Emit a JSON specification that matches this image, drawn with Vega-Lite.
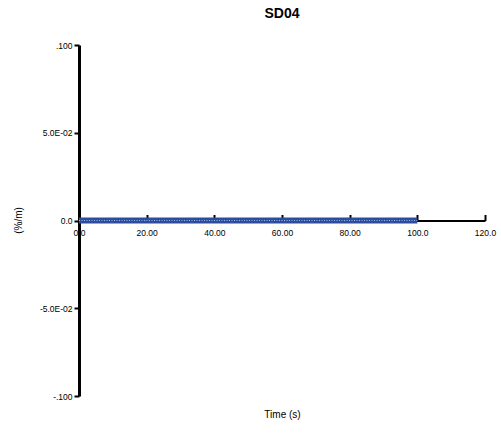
{
  "$schema": "https://vega.github.io/schema/vega-lite/v6.json",
  "width": 406,
  "height": 351,
  "autosize": {"type": "none"},
  "padding": {"left": 79, "top": 45, "right": 16, "bottom": 38},
  "background": "white",
  "config": {"view": {"stroke": null}, "font": "Liberation Sans"},
  "title": {"text": "SD04", "fontSize": 14, "font": "Liberation Sans", "fontWeight": "bold", "anchor": "middle", "offset": 20, "color": "#000"},
  "data": {"values": [
    {"t": 0, "v": 0}, {"t": 5, "v": 0}, {"t": 10, "v": 0}, {"t": 15, "v": 0}, {"t": 20, "v": 0},
    {"t": 25, "v": 0}, {"t": 30, "v": 0}, {"t": 35, "v": 0}, {"t": 40, "v": 0}, {"t": 45, "v": 0},
    {"t": 50, "v": 0}, {"t": 55, "v": 0}, {"t": 60, "v": 0}, {"t": 65, "v": 0}, {"t": 70, "v": 0},
    {"t": 75, "v": 0}, {"t": 80, "v": 0}, {"t": 85, "v": 0}, {"t": 90, "v": 0}, {"t": 95, "v": 0},
    {"t": 100, "v": 0}
  ]},
  "encoding": {
    "x": {"field": "t", "type": "quantitative",
      "scale": {"domain": [0, 120], "nice": false, "zero": false},
      "axis": {"title": "Time (s)", "grid": false, "values": [0, 20, 40, 60, 80, 100, 120],
        "labelExpr": "datum.value == 0 ? '0.0' : (datum.value >= 100 ? format(datum.value, '.1f') : format(datum.value, '.2f'))",
        "offset": -175.5, "domainColor": "#000", "domainWidth": 2, "tickColor": "#000", "tickWidth": 2, "tickSize": -6,
        "labelFontSize": 8.5, "labelColor": "#000", "labelPadding": 14, "labelFlush": false,
        "titleFontSize": 10, "titleFontWeight": "normal", "titleColor": "#000", "titleY": 194, "titleBaseline": "middle"}},
    "y": {"field": "v", "type": "quantitative",
      "scale": {"domain": [-0.1, 0.1], "nice": false, "zero": false},
      "axis": {"title": "(%/m)", "grid": false, "values": [-0.1, -0.05, 0, 0.05, 0.1],
        "labelExpr": "datum.value > 0.09 ? '.100' : (datum.value > 0.04 ? '5.0E-02' : (datum.value > -0.01 ? '0.0' : (datum.value > -0.06 ? '-5.0E-02' : '-.100')))",
        "domainColor": "#000", "domainWidth": 3, "tickColor": "#000", "tickWidth": 2, "tickSize": 5,
        "labelFontSize": 8.5, "labelColor": "#000", "labelPadding": 2, "labelFlush": false,
        "titleFontSize": 10, "titleFontWeight": "normal", "titleColor": "#000", "titleX": -61, "titleY": 175, "titleAngle": -90, "titleBaseline": "middle", "titleAlign": "center"}}
  },
  "layer": [
    {"mark": {"type": "line", "color": "#2c4c9e", "strokeWidth": 6, "strokeCap": "butt"}},
    {"mark": {"type": "line", "color": "#9fb3e0", "strokeWidth": 1.2, "strokeDash": [1, 1.5], "strokeCap": "butt"}}
  ]
}
